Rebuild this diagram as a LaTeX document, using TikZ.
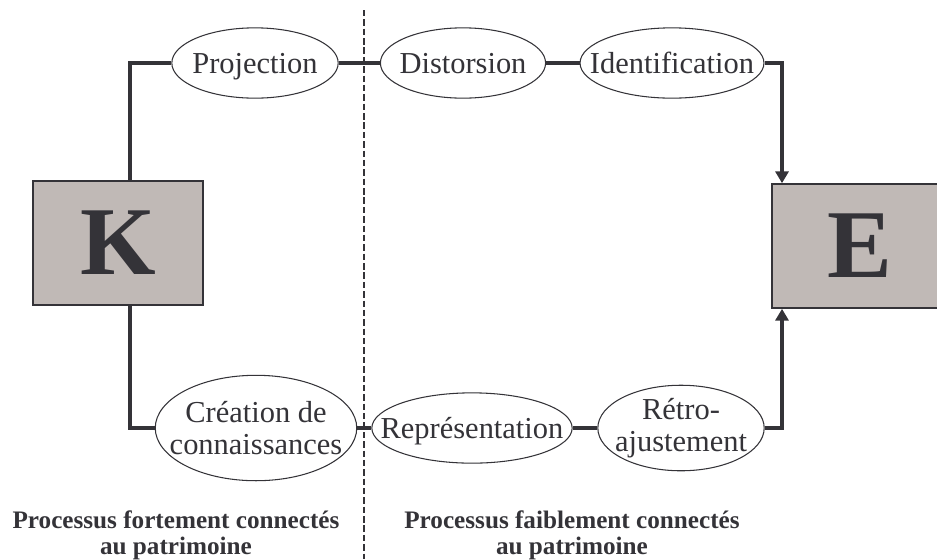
\documentclass[tikz,border=0pt]{standalone}
\usepackage{fontspec}
\setmainfont{Liberation Serif}
\usepackage{xcolor}
\usetikzlibrary{shapes.geometric,arrows.meta}

\definecolor{trait}{RGB}{52,51,56}
\definecolor{fond}{RGB}{192,185,182}

\tikzset{
    proc/.style={ellipse, draw=trait, line width=0.9pt, fill=white, inner sep=-40pt,
        text=trait, font=\fontsize{26}{27}\selectfont, align=center},
    plat/.style={text depth=0pt},
    bloc/.style={rectangle, draw=trait, line width=1.2pt, fill=fond, inner sep=0pt,
        minimum width=145pt, minimum height=106pt, text=trait,
        font=\fontsize{83}{83}\selectfont\bfseries},
    lien/.style={draw=trait, line width=3.4pt},
    fleche/.style={lien, -{Triangle[length=10pt, width=11pt]}},
    legende/.style={text=trait, align=center, inner sep=0pt, anchor=north,
        font=\fontsize{21.5}{21.5}\selectfont\bfseries}
}

\begin{document}
\begin{tikzpicture}[x=0.3mm, y=-0.3mm]
    \useasboundingbox (0,0) rectangle (937,559);

    % the two blocks
    \node[bloc] (K) at (118, 243) {K};
    \node[bloc, minimum width=150pt] (E) at (860, 246) {E};

    % the processes
    \node[proc, plat, minimum width=142pt, minimum height=60pt] (proj) at (255, 63) {Projection};
    \node[proc, plat, minimum width=141pt, minimum height=60pt] (dist) at (463, 63) {Distorsion};
    \node[proc, plat, minimum width=157pt, minimum height=60pt] (ident) at (672, 63) {Identification};
    \node[proc, minimum width=172pt, minimum height=90pt] (crea) at (256, 428) {Création de\\connaissances};
    \node[proc, plat, minimum width=171pt, minimum height=60pt] (repr) at (472, 428) {Représentation};
    \node[proc, minimum width=142pt, minimum height=73pt] (retro) at (681, 428) {Rétro-\\ajustement};

    % corners of the connectors
    \coordinate (kh) at (130, 63);
    \coordinate (kb) at (130, 428);
    \coordinate (eh) at (782, 63);
    \coordinate (eb) at (782, 428);

    % separation line
    \coordinate (sh) at (364, 10);
    \coordinate (sb) at (364, 559);
    \draw[draw=trait, line width=2.4pt, dash pattern=on 5.5pt off 2.5pt] (sh) -- (sb);

    % Draw the connectors
    \draw[lien] (K.north -| kh) -- (kh) -- (proj);
    \draw[lien] (proj) -- (dist);
    \draw[lien] (dist) -- (ident);
    \draw[fleche] (ident) -- (eh) -- (E.north -| eh);
    \draw[lien] (K.south -| kb) -- (kb) -- (crea);
    \draw[lien] (crea) -- (repr);
    \draw[lien] (repr) -- (retro);
    \draw[fleche] (retro) -- (eb) -- (E.south -| eb);

    % captions
    \node[legende] (gauche) at (176, 511) {Processus fortement connectés\\au patrimoine};
    \node[legende] (droite) at (572, 511) {Processus faiblement connectés\\au patrimoine};
\end{tikzpicture}
\end{document}
